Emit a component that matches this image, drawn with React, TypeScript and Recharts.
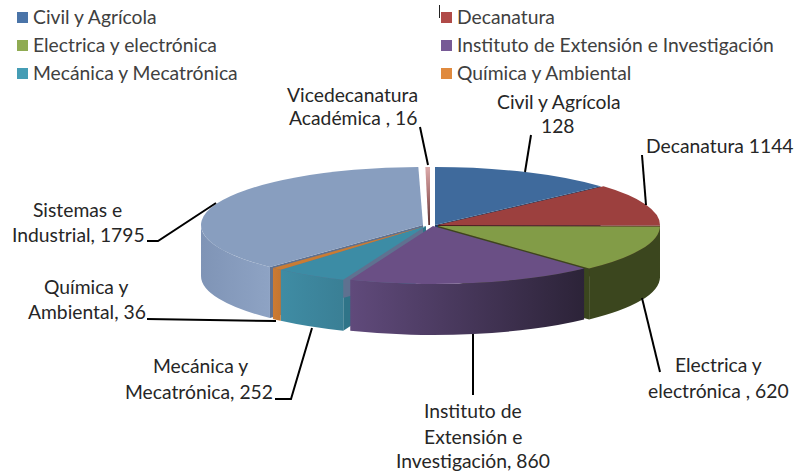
import * as React from "react"
import { PieChart, Pie, Legend } from "recharts"

const categories = [
  "Civil y Agrícola",
  "Decanatura",
  "Electrica y electrónica",
  "Instituto de Extensión e Investigación",
  "Mecánica y Mecatrónica",
  "Química y Ambiental",
  "Sistemas e Industrial",
  "Vicedecanatura Académica",
]
// slice sizes as drawn; Civil and Decanatura are drawn far from their printed 128 / 1144
const sliceValues = [640, 560, 620, 860, 252, 36, 1795, 16]

const legendNames = categories.slice(0, 6)
const legendColors = ["#4a74a8", "#b04a48", "#8fab52", "#775a96", "#459db5", "#e08a3e"]

const topColors = ["#3f6a9c", "#9c403e", "#829c47", "#6a4f85", "#3c8ca5", "#c97c34", "#889ebf", "#d9a8a8"]
const wallFrom = ["#3f6a9c", "#9c403e", "#3b461e", "#604a7b", "#3f8ca4", "#cc7b33", "#7f94b6", "#d9a8a8"]
const wallTo = ["#3f6a9c", "#9c403e", "#3b461e", "#2c2338", "#3a7f95", "#c47530", "#8ea3c4", "#d9a8a8"]
const cutColors = ["#1f3c60", "#4f1d1c", "#3b461e", "#2f2440", "#2f7488", "#a86226", "#5f7190", "#6b3b3b"]

// how far each slice is pulled out of the pie
const shiftX = [4, 7, 7, 2, -5, -5, -8, -1]
const shiftY = [0, 0, 1, 1, 1, 1, 0, 0]
// which radial cut is visible for a slice: the clockwise start or end edge
const cutEdge = ["end", "end", "end", "", "start", "", "start", ""]

const SQUASH = 58 / 222
const DEPTH = 51

const labelLines: [string, number, number][][] = [
  [["Civil y Agrícola", 497, 109], ["128", 541, 133]],
  [["Decanatura 1144", 646, 153]],
  [["Electrica y", 675, 372], ["electrónica , 620", 648, 398]],
  [["Instituto de", 424, 418], ["Extensión e", 424, 444], ["Investigación, 860", 396, 468]],
  [["Mecánica y", 153, 373], ["Mecatrónica, 252", 125, 399]],
  [["Química y", 44, 294], ["Ambiental, 36", 28, 319]],
  [["Sistemas e", 33, 217], ["Industrial, 1795", 12, 242]],
  [["Vicedecanatura", 287, 102], ["Académica , 16", 289, 125]],
]
const leaderLines = [
  "531,135 525,172",
  "642,155 646,205",
  "642,298 660,372",
  "473,334 473,395",
  "312,328 291,399 275,399",
  "147,319 276,321",
  "216,203 158,241 147,241",
  "420,127 428,165",
]

const data = categories.map((name, i) => ({ name, value: sliceValues[i] }))

function pt(cx: number, cy: number, r: number, deg: number) {
  const a = (deg * Math.PI) / 180
  return [cx + r * Math.cos(a), cy - r * SQUASH * Math.sin(a)]
}

function TopFace(props: any) {
  const i = categories.indexOf(props.name)
  const cx = props.cx + shiftX[i]
  const cy = props.cy + shiftY[i]
  const r = props.outerRadius
  const [x1, y1] = pt(cx, cy, r, props.startAngle)
  const [x2, y2] = pt(cx, cy, r, props.endAngle)
  const large = props.startAngle - props.endAngle > 180 ? 1 : 0
  const d = `M${cx},${cy} L${x1},${y1} A${r},${r * SQUASH} 0 ${large} 1 ${x2},${y2} Z`
  if (i === 7) {
    return (
      <g>
        <defs>
          <linearGradient id="viceTop" x1="0" y1="0" x2="0" y2="1">
            <stop offset="0" stopColor="#dcaaaa" />
            <stop offset="0.5" stopColor="#a87070" />
            <stop offset="1" stopColor="#5a3030" />
          </linearGradient>
        </defs>
        <path d={`M${x1},${y1} L${x2},${y2} L${cx},${cy} L${x1 + 3},${cy} Z`} fill="url(#viceTop)" />
      </g>
    )
  }
  return <path d={d} fill={topColors[i]} />
}

function Wall(props: any) {
  const i = categories.indexOf(props.name)
  const cx = props.cx + shiftX[i]
  const cy = props.cy + shiftY[i]
  const r = props.outerRadius
  // only the front half of the rim can be seen
  const a1 = Math.min(props.startAngle, 0)
  const a2 = Math.max(props.endAngle, -180)
  if (a1 <= a2) return <g />
  const [x1, y1] = pt(cx, cy, r, a1)
  const [x2, y2] = pt(cx, cy, r, a2)
  const rx = r
  const ry = r * SQUASH
  const d = `M${x1},${y1} A${rx},${ry} 0 0 1 ${x2},${y2} L${x2},${y2 + DEPTH} A${rx},${ry} 0 0 0 ${x1},${y1 + DEPTH} Z`
  const id = `wall${i}`
  return (
    <g>
      <defs>
        <linearGradient id={id} x1="0" y1="0" x2="1" y2="0">
          <stop offset="0" stopColor={wallFrom[i]} />
          <stop offset="1" stopColor={wallTo[i]} />
        </linearGradient>
      </defs>
      <path d={d} fill={`url(#${id})`} />
    </g>
  )
}

function Cut(props: any) {
  const i = categories.indexOf(props.name)
  if (!cutEdge[i]) return <g />
  const cx = props.cx + shiftX[i]
  const cy = props.cy + shiftY[i]
  const deg = cutEdge[i] === "start" ? props.startAngle : props.endAngle
  const [x, y] = pt(cx, cy, props.outerRadius, deg)
  const d = `M${cx},${cy} L${x},${y} L${x},${y + DEPTH} L${cx},${cy + DEPTH} Z`
  return <path d={d} fill={cutColors[i]} />
}

function renderLabel(props: any) {
  const i = props.index
  return (
    <g key={i}>
      <polyline points={leaderLines[i]} fill="none" stroke="#000" strokeWidth={2} />
      {labelLines[i].map(([t, x, y]) => (
        <text key={t} x={x} y={y} fontFamily="Lato" fontSize={19.3} fill="#262626">
          {t}
        </text>
      ))}
    </g>
  )
}

function LegendBox() {
  return (
    <div style={{ position: "relative", width: 794, height: 90, fontFamily: "Lato", fontSize: 19.3, color: "#404040" }}>
      {legendNames.map((name, i) => {
        const left = i % 2 === 0 ? 17 : 441
        const top = 12 + Math.floor(i / 2) * 28
        return (
          <React.Fragment key={name}>
            <div style={{ position: "absolute", left, top, width: 11, height: 11, background: legendColors[i] }} />
            <div style={{ position: "absolute", left: left + 16, top: top - 7, lineHeight: "24px", whiteSpace: "nowrap" }}>{name}</div>
          </React.Fragment>
        )
      })}
      <div style={{ position: "absolute", left: 439, top: 5, width: 1, height: 13, background: "#222" }} />
    </div>
  )
}

export default function App() {
  const pieProps = {
    data,
    dataKey: "value",
    nameKey: "name",
    cx: 431,
    cy: 225,
    outerRadius: 222,
    startAngle: 90,
    endAngle: -270,
    stroke: "none",
    isAnimationActive: false,
    legendType: "none" as const,
  }
  return (
    <div style={{ position: "absolute", left: 0, top: 0, width: 794, height: 476, background: "#fff" }}>
      <PieChart width={794} height={476} margin={{ top: 0, right: 0, bottom: 0, left: 0 }}>
        <Legend content={<LegendBox />} wrapperStyle={{ position: "absolute", left: 0, top: 0, width: 794 }} />
        <Pie {...pieProps} shape={Cut} label={false} labelLine={false} />
        <Pie {...pieProps} shape={Wall} label={false} labelLine={false} />
        <Pie {...pieProps} shape={TopFace} label={renderLabel} labelLine={false} />
      </PieChart>
    </div>
  )
}
